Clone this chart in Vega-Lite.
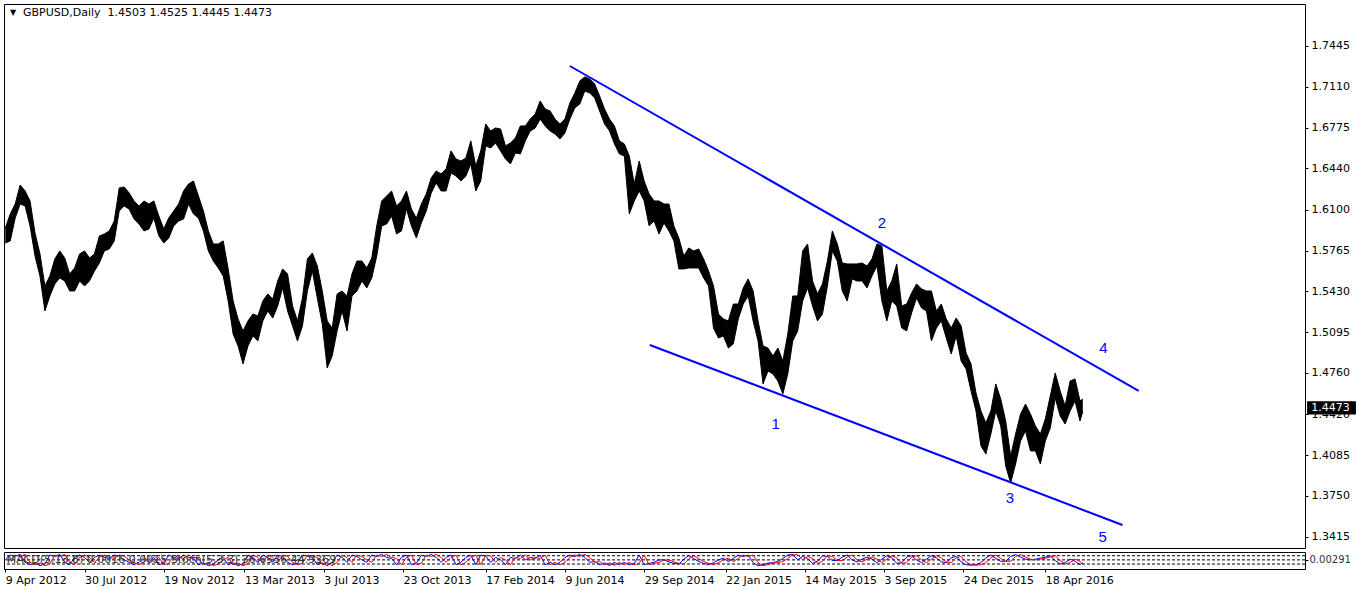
{
"$schema": "https://vega.github.io/schema/vega-lite/v6.json",
"padding": {"left": 2, "top": 3, "right": 0, "bottom": 0},
"background": "white",
"spacing": 2,
"config": {
  "view": {"stroke": "black", "strokeWidth": 1},
  "font": "DejaVu Sans",
  "axis": {"labelFont": "DejaVu Sans", "labelFontSize": 11, "labelColor": "black", "tickColor": "black", "tickSize": 3, "domain": false, "grid": false}
},
"datasets": {
"px": [
{"d":"2012-04-09","h":1.5950,"l":1.5827,"k":50,"s":50},
{"d":"2012-04-16","h":1.6065,"l":1.5844,"k":85,"s":50},
{"d":"2012-04-23","h":1.6147,"l":1.6032,"k":75,"s":85},
{"d":"2012-04-30","h":1.6303,"l":1.6147,"k":90,"s":75},
{"d":"2012-05-07","h":1.6254,"l":1.6131,"k":32,"s":90},
{"d":"2012-05-14","h":1.6172,"l":1.5967,"k":15,"s":32},
{"d":"2012-05-21","h":1.5909,"l":1.5720,"k":28,"s":15},
{"d":"2012-05-28","h":1.5737,"l":1.5556,"k":8,"s":28},
{"d":"2012-06-04","h":1.5474,"l":1.5269,"k":20,"s":8},
{"d":"2012-06-11","h":1.5556,"l":1.5392,"k":85,"s":20},
{"d":"2012-06-18","h":1.5696,"l":1.5491,"k":75,"s":85},
{"d":"2012-06-25","h":1.5762,"l":1.5540,"k":90,"s":75},
{"d":"2012-07-02","h":1.5704,"l":1.5515,"k":32,"s":90},
{"d":"2012-07-09","h":1.5573,"l":1.5433,"k":15,"s":32},
{"d":"2012-07-16","h":1.5622,"l":1.5433,"k":68,"s":15},
{"d":"2012-07-23","h":1.5737,"l":1.5515,"k":85,"s":68},
{"d":"2012-07-30","h":1.5762,"l":1.5474,"k":68,"s":85},
{"d":"2012-08-06","h":1.5704,"l":1.5515,"k":32,"s":68},
{"d":"2012-08-13","h":1.5737,"l":1.5597,"k":68,"s":32},
{"d":"2012-08-20","h":1.5885,"l":1.5663,"k":85,"s":68},
{"d":"2012-08-27","h":1.5901,"l":1.5762,"k":68,"s":85},
{"d":"2012-09-03","h":1.5926,"l":1.5778,"k":60,"s":68},
{"d":"2012-09-10","h":1.6008,"l":1.5844,"k":85,"s":60},
{"d":"2012-09-17","h":1.6279,"l":1.6090,"k":78,"s":85},
{"d":"2012-09-24","h":1.6287,"l":1.6131,"k":50,"s":78},
{"d":"2012-10-01","h":1.6238,"l":1.6106,"k":32,"s":50},
{"d":"2012-10-08","h":1.6172,"l":1.6024,"k":15,"s":32},
{"d":"2012-10-15","h":1.6131,"l":1.5983,"k":32,"s":15},
{"d":"2012-10-22","h":1.6172,"l":1.5926,"k":68,"s":32},
{"d":"2012-10-29","h":1.6147,"l":1.5942,"k":32,"s":68},
{"d":"2012-11-05","h":1.6172,"l":1.6032,"k":68,"s":32},
{"d":"2012-11-12","h":1.6049,"l":1.5885,"k":15,"s":68},
{"d":"2012-11-19","h":1.5942,"l":1.5827,"k":25,"s":15},
{"d":"2012-11-26","h":1.6032,"l":1.5868,"k":85,"s":25},
{"d":"2012-12-03","h":1.6090,"l":1.5967,"k":68,"s":85},
{"d":"2012-12-10","h":1.6147,"l":1.6008,"k":60,"s":68},
{"d":"2012-12-17","h":1.6254,"l":1.6024,"k":85,"s":60},
{"d":"2012-12-24","h":1.6312,"l":1.6147,"k":68,"s":85},
{"d":"2012-12-31","h":1.6336,"l":1.6065,"k":60,"s":68},
{"d":"2013-01-07","h":1.6213,"l":1.6032,"k":15,"s":60},
{"d":"2013-01-14","h":1.6090,"l":1.5926,"k":28,"s":15},
{"d":"2013-01-21","h":1.5926,"l":1.5762,"k":8,"s":28},
{"d":"2013-01-28","h":1.5819,"l":1.5679,"k":20,"s":8},
{"d":"2013-02-04","h":1.5819,"l":1.5622,"k":50,"s":20},
{"d":"2013-02-11","h":1.5844,"l":1.5556,"k":68,"s":50},
{"d":"2013-02-18","h":1.5614,"l":1.5351,"k":15,"s":68},
{"d":"2013-02-25","h":1.5351,"l":1.5080,"k":28,"s":15},
{"d":"2013-03-04","h":1.5203,"l":1.4982,"k":8,"s":28},
{"d":"2013-03-11","h":1.5105,"l":1.4834,"k":22,"s":8},
{"d":"2013-03-18","h":1.5187,"l":1.4982,"k":85,"s":22},
{"d":"2013-03-25","h":1.5244,"l":1.5064,"k":68,"s":85},
{"d":"2013-04-01","h":1.5228,"l":1.5023,"k":32,"s":68},
{"d":"2013-04-08","h":1.5351,"l":1.5187,"k":85,"s":32},
{"d":"2013-04-15","h":1.5409,"l":1.5269,"k":68,"s":85},
{"d":"2013-04-22","h":1.5367,"l":1.5211,"k":32,"s":68},
{"d":"2013-04-29","h":1.5515,"l":1.5310,"k":85,"s":32},
{"d":"2013-05-06","h":1.5614,"l":1.5458,"k":75,"s":85},
{"d":"2013-05-13","h":1.5573,"l":1.5269,"k":32,"s":75},
{"d":"2013-05-20","h":1.5310,"l":1.5146,"k":15,"s":32},
{"d":"2013-05-27","h":1.5187,"l":1.5023,"k":25,"s":15},
{"d":"2013-06-03","h":1.5376,"l":1.5146,"k":85,"s":25},
{"d":"2013-06-10","h":1.5696,"l":1.5433,"k":78,"s":85},
{"d":"2013-06-17","h":1.5745,"l":1.5597,"k":68,"s":78},
{"d":"2013-06-24","h":1.5638,"l":1.5376,"k":15,"s":68},
{"d":"2013-07-01","h":1.5433,"l":1.5162,"k":28,"s":15},
{"d":"2013-07-08","h":1.5187,"l":1.4801,"k":8,"s":28},
{"d":"2013-07-15","h":1.5129,"l":1.4899,"k":32,"s":8},
{"d":"2013-07-22","h":1.5409,"l":1.5105,"k":85,"s":32},
{"d":"2013-07-29","h":1.5433,"l":1.5269,"k":68,"s":85},
{"d":"2013-08-05","h":1.5392,"l":1.5105,"k":32,"s":68},
{"d":"2013-08-12","h":1.5573,"l":1.5392,"k":85,"s":32},
{"d":"2013-08-19","h":1.5679,"l":1.5433,"k":75,"s":85},
{"d":"2013-08-26","h":1.5679,"l":1.5515,"k":50,"s":75},
{"d":"2013-09-02","h":1.5622,"l":1.5458,"k":32,"s":50},
{"d":"2013-09-09","h":1.5704,"l":1.5540,"k":85,"s":32},
{"d":"2013-09-16","h":1.5967,"l":1.5720,"k":75,"s":85},
{"d":"2013-09-23","h":1.6172,"l":1.5967,"k":90,"s":75},
{"d":"2013-09-30","h":1.6213,"l":1.5983,"k":68,"s":90},
{"d":"2013-10-07","h":1.6254,"l":1.6049,"k":60,"s":68},
{"d":"2013-10-14","h":1.6131,"l":1.5901,"k":15,"s":60},
{"d":"2013-10-21","h":1.6172,"l":1.5926,"k":68,"s":15},
{"d":"2013-10-28","h":1.6254,"l":1.6106,"k":85,"s":68},
{"d":"2013-11-04","h":1.6106,"l":1.5967,"k":15,"s":85},
{"d":"2013-11-11","h":1.6032,"l":1.5868,"k":25,"s":15},
{"d":"2013-11-18","h":1.6147,"l":1.5991,"k":85,"s":25},
{"d":"2013-11-25","h":1.6230,"l":1.6090,"k":75,"s":85},
{"d":"2013-12-02","h":1.6361,"l":1.6238,"k":90,"s":75},
{"d":"2013-12-09","h":1.6418,"l":1.6320,"k":68,"s":90},
{"d":"2013-12-16","h":1.6394,"l":1.6254,"k":32,"s":68},
{"d":"2013-12-23","h":1.6435,"l":1.6254,"k":68,"s":32},
{"d":"2013-12-30","h":1.6583,"l":1.6402,"k":85,"s":68},
{"d":"2014-01-06","h":1.6517,"l":1.6377,"k":15,"s":85},
{"d":"2014-01-13","h":1.6500,"l":1.6336,"k":32,"s":15},
{"d":"2014-01-20","h":1.6525,"l":1.6377,"k":68,"s":32},
{"d":"2014-01-27","h":1.6665,"l":1.6476,"k":85,"s":68},
{"d":"2014-02-03","h":1.6459,"l":1.6254,"k":15,"s":85},
{"d":"2014-02-10","h":1.6583,"l":1.6336,"k":85,"s":15},
{"d":"2014-02-17","h":1.6804,"l":1.6624,"k":78,"s":85},
{"d":"2014-02-24","h":1.6747,"l":1.6607,"k":32,"s":78},
{"d":"2014-03-03","h":1.6771,"l":1.6648,"k":68,"s":32},
{"d":"2014-03-10","h":1.6763,"l":1.6583,"k":50,"s":68},
{"d":"2014-03-17","h":1.6624,"l":1.6517,"k":15,"s":50},
{"d":"2014-03-24","h":1.6648,"l":1.6476,"k":68,"s":15},
{"d":"2014-03-31","h":1.6689,"l":1.6566,"k":60,"s":68},
{"d":"2014-04-07","h":1.6788,"l":1.6558,"k":85,"s":60},
{"d":"2014-04-14","h":1.6788,"l":1.6665,"k":50,"s":85},
{"d":"2014-04-21","h":1.6845,"l":1.6747,"k":68,"s":50},
{"d":"2014-04-28","h":1.6886,"l":1.6771,"k":60,"s":68},
{"d":"2014-05-05","h":1.6993,"l":1.6845,"k":85,"s":60},
{"d":"2014-05-12","h":1.6927,"l":1.6788,"k":15,"s":85},
{"d":"2014-05-19","h":1.6911,"l":1.6747,"k":32,"s":15},
{"d":"2014-05-26","h":1.6845,"l":1.6722,"k":15,"s":32},
{"d":"2014-06-02","h":1.6804,"l":1.6681,"k":32,"s":15},
{"d":"2014-06-09","h":1.6845,"l":1.6730,"k":68,"s":32},
{"d":"2014-06-16","h":1.6977,"l":1.6845,"k":85,"s":68},
{"d":"2014-06-23","h":1.7059,"l":1.6936,"k":75,"s":85},
{"d":"2014-06-30","h":1.7157,"l":1.6968,"k":90,"s":75},
{"d":"2014-07-07","h":1.7190,"l":1.7075,"k":68,"s":90},
{"d":"2014-07-14","h":1.7174,"l":1.7059,"k":32,"s":68},
{"d":"2014-07-21","h":1.7133,"l":1.7018,"k":38,"s":32},
{"d":"2014-07-28","h":1.7034,"l":1.6911,"k":15,"s":38},
{"d":"2014-08-04","h":1.6927,"l":1.6804,"k":28,"s":15},
{"d":"2014-08-11","h":1.6845,"l":1.6747,"k":10,"s":28},
{"d":"2014-08-18","h":1.6788,"l":1.6640,"k":32,"s":10},
{"d":"2014-08-25","h":1.6665,"l":1.6558,"k":15,"s":32},
{"d":"2014-09-01","h":1.6640,"l":1.6541,"k":32,"s":15},
{"d":"2014-09-08","h":1.6541,"l":1.6065,"k":15,"s":32},
{"d":"2014-09-15","h":1.6312,"l":1.6172,"k":25,"s":15},
{"d":"2014-09-22","h":1.6500,"l":1.6254,"k":85,"s":25},
{"d":"2014-09-29","h":1.6336,"l":1.6172,"k":15,"s":85},
{"d":"2014-10-06","h":1.6230,"l":1.5967,"k":25,"s":15},
{"d":"2014-10-13","h":1.6172,"l":1.6008,"k":32,"s":25},
{"d":"2014-10-20","h":1.6172,"l":1.5901,"k":50,"s":32},
{"d":"2014-10-27","h":1.6147,"l":1.5991,"k":50,"s":50},
{"d":"2014-11-03","h":1.6147,"l":1.5926,"k":35,"s":50},
{"d":"2014-11-10","h":1.5967,"l":1.5844,"k":25,"s":35},
{"d":"2014-11-17","h":1.5868,"l":1.5614,"k":20,"s":25},
{"d":"2014-11-24","h":1.5720,"l":1.5614,"k":55,"s":20},
{"d":"2014-12-01","h":1.5786,"l":1.5622,"k":80,"s":55},
{"d":"2014-12-08","h":1.5762,"l":1.5622,"k":60,"s":80},
{"d":"2014-12-15","h":1.5778,"l":1.5622,"k":38,"s":60},
{"d":"2014-12-22","h":1.5696,"l":1.5540,"k":25,"s":38},
{"d":"2014-12-29","h":1.5597,"l":1.5474,"k":15,"s":25},
{"d":"2015-01-05","h":1.5474,"l":1.5129,"k":30,"s":15},
{"d":"2015-01-12","h":1.5244,"l":1.5047,"k":50,"s":30},
{"d":"2015-01-19","h":1.5203,"l":1.5064,"k":62,"s":50},
{"d":"2015-01-26","h":1.5187,"l":1.4965,"k":38,"s":62},
{"d":"2015-02-02","h":1.5326,"l":1.4998,"k":60,"s":38},
{"d":"2015-02-09","h":1.5326,"l":1.5203,"k":85,"s":60},
{"d":"2015-02-16","h":1.5458,"l":1.5326,"k":75,"s":85},
{"d":"2015-02-23","h":1.5532,"l":1.5392,"k":85,"s":75},
{"d":"2015-03-02","h":1.5433,"l":1.5187,"k":30,"s":85},
{"d":"2015-03-09","h":1.5187,"l":1.5023,"k":8,"s":30},
{"d":"2015-03-16","h":1.4982,"l":1.4670,"k":15,"s":8},
{"d":"2015-03-23","h":1.4965,"l":1.4776,"k":27,"s":15},
{"d":"2015-03-30","h":1.4899,"l":1.4752,"k":30,"s":27},
{"d":"2015-04-06","h":1.4965,"l":1.4694,"k":38,"s":30},
{"d":"2015-04-13","h":1.4858,"l":1.4588,"k":60,"s":38},
{"d":"2015-04-20","h":1.5080,"l":1.4752,"k":85,"s":60},
{"d":"2015-04-27","h":1.5392,"l":1.5023,"k":89,"s":85},
{"d":"2015-05-04","h":1.5392,"l":1.5105,"k":50,"s":89},
{"d":"2015-05-11","h":1.5762,"l":1.5351,"k":75,"s":50},
{"d":"2015-05-18","h":1.5819,"l":1.5458,"k":60,"s":75},
{"d":"2015-05-25","h":1.5515,"l":1.5310,"k":25,"s":60},
{"d":"2015-06-01","h":1.5409,"l":1.5187,"k":40,"s":25},
{"d":"2015-06-08","h":1.5491,"l":1.5244,"k":80,"s":40},
{"d":"2015-06-15","h":1.5679,"l":1.5474,"k":75,"s":80},
{"d":"2015-06-22","h":1.5926,"l":1.5762,"k":45,"s":75},
{"d":"2015-06-29","h":1.5819,"l":1.5679,"k":45,"s":45},
{"d":"2015-07-06","h":1.5663,"l":1.5433,"k":70,"s":45},
{"d":"2015-07-13","h":1.5655,"l":1.5351,"k":85,"s":70},
{"d":"2015-07-20","h":1.5655,"l":1.5532,"k":50,"s":85},
{"d":"2015-07-27","h":1.5655,"l":1.5515,"k":35,"s":50},
{"d":"2015-08-03","h":1.5663,"l":1.5515,"k":55,"s":35},
{"d":"2015-08-10","h":1.5638,"l":1.5458,"k":70,"s":55},
{"d":"2015-08-17","h":1.5696,"l":1.5556,"k":55,"s":70},
{"d":"2015-08-24","h":1.5819,"l":1.5638,"k":30,"s":55},
{"d":"2015-08-31","h":1.5803,"l":1.5351,"k":55,"s":30},
{"d":"2015-09-07","h":1.5433,"l":1.5187,"k":80,"s":55},
{"d":"2015-09-14","h":1.5515,"l":1.5351,"k":65,"s":80},
{"d":"2015-09-21","h":1.5655,"l":1.5310,"k":25,"s":65},
{"d":"2015-09-28","h":1.5310,"l":1.5129,"k":30,"s":25},
{"d":"2015-10-05","h":1.5326,"l":1.5105,"k":70,"s":30},
{"d":"2015-10-12","h":1.5417,"l":1.5253,"k":80,"s":70},
{"d":"2015-10-19","h":1.5491,"l":1.5376,"k":50,"s":80},
{"d":"2015-10-26","h":1.5450,"l":1.5294,"k":30,"s":50},
{"d":"2015-11-02","h":1.5433,"l":1.5269,"k":55,"s":30},
{"d":"2015-11-09","h":1.5433,"l":1.5023,"k":80,"s":55},
{"d":"2015-11-16","h":1.5269,"l":1.5129,"k":65,"s":80},
{"d":"2015-11-23","h":1.5326,"l":1.5187,"k":35,"s":65},
{"d":"2015-11-30","h":1.5203,"l":1.5047,"k":30,"s":35},
{"d":"2015-12-07","h":1.5129,"l":1.4916,"k":65,"s":30},
{"d":"2015-12-14","h":1.5211,"l":1.5064,"k":75,"s":65},
{"d":"2015-12-21","h":1.5146,"l":1.4858,"k":35,"s":75},
{"d":"2015-12-28","h":1.4924,"l":1.4793,"k":15,"s":35},
{"d":"2016-01-04","h":1.4834,"l":1.4612,"k":12,"s":15},
{"d":"2016-01-11","h":1.4596,"l":1.4448,"k":15,"s":12},
{"d":"2016-01-18","h":1.4448,"l":1.4161,"k":30,"s":15},
{"d":"2016-01-25","h":1.4349,"l":1.4095,"k":65,"s":30},
{"d":"2016-02-01","h":1.4448,"l":1.4259,"k":85,"s":65},
{"d":"2016-02-08","h":1.4670,"l":1.4448,"k":60,"s":85},
{"d":"2016-02-15","h":1.4546,"l":1.4325,"k":40,"s":60},
{"d":"2016-02-22","h":1.4366,"l":1.3996,"k":40,"s":40},
{"d":"2016-02-29","h":1.4078,"l":1.3857,"k":75,"s":40},
{"d":"2016-03-07","h":1.4259,"l":1.4013,"k":89,"s":75},
{"d":"2016-03-14","h":1.4423,"l":1.4202,"k":70,"s":89},
{"d":"2016-03-21","h":1.4505,"l":1.4284,"k":55,"s":70},
{"d":"2016-03-28","h":1.4423,"l":1.4120,"k":50,"s":55},
{"d":"2016-04-04","h":1.4325,"l":1.4120,"k":55,"s":50},
{"d":"2016-04-11","h":1.4259,"l":1.4013,"k":62,"s":55},
{"d":"2016-04-18","h":1.4382,"l":1.4202,"k":70,"s":62},
{"d":"2016-04-25","h":1.4571,"l":1.4308,"k":80,"s":70},
{"d":"2016-05-02","h":1.4760,"l":1.4555,"k":45,"s":80},
{"d":"2016-05-09","h":1.4612,"l":1.4407,"k":20,"s":45},
{"d":"2016-05-16","h":1.4489,"l":1.4341,"k":30,"s":20},
{"d":"2016-05-23","h":1.4694,"l":1.4448,"k":55,"s":30},
{"d":"2016-05-30","h":1.4711,"l":1.4530,"k":40,"s":55},
{"d":"2016-06-06","h":1.4530,"l":1.4366,"k":15,"s":40},
{"d":"2016-06-10","h":1.4546,"l":1.4445,"k":30,"s":15}
],
"trend": [
{"g":"upper","d":"2014-06-16","p":1.7280},
{"g":"upper","d":"2016-08-28","p":1.4612},
{"g":"lower","d":"2014-10-07","p":1.4990},
{"g":"lower","d":"2016-08-05","p":1.3512}
],
"waves": [
{"d":"2015-04-03","p":1.4341,"t":"1"},
{"d":"2015-08-31","p":1.5991,"t":"2"},
{"d":"2016-02-28","p":1.3734,"t":"3"},
{"d":"2016-07-09","p":1.4965,"t":"4"},
{"d":"2016-07-08","p":1.3414,"t":"5"}
]
},
"vconcat": [
{
  "width": 1301,
  "height": 544,
  "layer": [
    {
      "data": {"name": "px"},
      "mark": {"type": "area", "color": "black", "opacity": 1},
      "encoding": {
        "x": {"field": "d", "type": "temporal", "axis": null, "scale": {"type": "utc", "domain": [{"year": 2012, "month": 4, "date": 7, "hours": 4, "utc": true}, {"year": 2017, "month": 4, "date": 20, "hours": 1, "utc": true}]}},
        "y": {"field": "h", "type": "quantitative", "title": null, "scale": {"domain": [1.3323, 1.7789], "zero": false, "nice": false},
              "axis": {"orient": "right", "values": [1.7445, 1.711, 1.6775, 1.644, 1.61, 1.5765, 1.543, 1.5095, 1.476, 1.442, 1.4085, 1.375, 1.3415], "format": ".4f", "labelPadding": 3}},
        "y2": {"field": "l"}
      }
    },
    {
      "data": {"name": "px"},
      "mark": {"type": "line", "color": "black", "strokeWidth": 1},
      "encoding": {"x": {"field": "d", "type": "temporal"}, "y": {"field": "h", "type": "quantitative"}}
    },
    {
      "data": {"name": "px"},
      "mark": {"type": "line", "color": "black", "strokeWidth": 1},
      "encoding": {"x": {"field": "d", "type": "temporal"}, "y": {"field": "l", "type": "quantitative"}}
    },
    {
      "mark": {"type": "rule", "color": "#778899", "strokeWidth": 1},
      "encoding": {"y": {"datum": 1.4473}}
    },
    {
      "data": {"name": "trend"},
      "mark": {"type": "line", "color": "#0000ff", "strokeWidth": 2},
      "encoding": {"x": {"field": "d", "type": "temporal"}, "y": {"field": "p", "type": "quantitative"}, "detail": {"field": "g"}}
    },
    {
      "data": {"name": "waves"},
      "mark": {"type": "text", "color": "#0000ff", "font": "Liberation Sans", "fontSize": 15, "align": "center", "baseline": "middle"},
      "encoding": {"x": {"field": "d", "type": "temporal"}, "y": {"field": "p", "type": "quantitative"}, "text": {"field": "t"}}
    },
    {
      "data": {"values": [{"d": "2012-05-04", "p": 1.7716, "t": "GBPUSD,Daily\u00a0 1.4503 1.4525 1.4445 1.4473"}]},
      "mark": {"type": "text", "color": "black", "fontSize": 11, "align": "left", "baseline": "middle"},
      "encoding": {"x": {"field": "d", "type": "temporal"}, "y": {"field": "p", "type": "quantitative"}, "text": {"field": "t"}}
    },
    {
      "data": {"values": [{"d": "2012-04-20", "p": 1.7716, "t": "▼"}]},
      "mark": {"type": "text", "color": "black", "fontSize": 8, "align": "center", "baseline": "middle"},
      "encoding": {"x": {"field": "d", "type": "temporal"}, "y": {"field": "p", "type": "quantitative"}, "text": {"field": "t"}}
    },
    {
      "data": {"values": [{"d1": "2017-04-23", "d2": "2017-07-01", "p1": 1.4418, "p2": 1.4528}]},
      "mark": {"type": "rect", "color": "black"},
      "encoding": {"x": {"field": "d1", "type": "temporal"}, "x2": {"field": "d2"}, "y": {"field": "p1", "type": "quantitative"}, "y2": {"field": "p2"}}
    },
    {
      "data": {"values": [{"d": "2017-04-29", "p": 1.4473, "t": "1.4473"}]},
      "mark": {"type": "text", "color": "white", "fontSize": 11, "align": "left", "baseline": "middle"},
      "encoding": {"x": {"field": "d", "type": "temporal"}, "y": {"field": "p", "type": "quantitative"}, "text": {"field": "t"}}
    }
  ]
},
{
  "width": 1301,
  "height": 17,
  "layer": [
    {
      "data": {"values": [{"v": 80}, {"v": 50}, {"v": 20}]},
      "mark": {"type": "rule", "color": "black", "strokeWidth": 1, "strokeDash": [3, 2]},
      "encoding": {"y": {"field": "v", "type": "quantitative", "title": null, "scale": {"domain": [-16, 107], "zero": false, "nice": false},
                   "axis": {"orient": "right", "values": [50], "labelExpr": "'0.00291'", "labelColor": "#333333", "labelFontSize": 10, "labelPadding": 1}}}
    },
    {
      "data": {"name": "px"},
      "mark": {"type": "line", "color": "#0000ff", "strokeWidth": 1},
      "encoding": {
        "x": {"field": "d", "type": "temporal", "title": null,
              "scale": {"type": "utc", "domain": [{"year": 2012, "month": 4, "date": 7, "hours": 4, "utc": true}, {"year": 2017, "month": 4, "date": 20, "hours": 1, "utc": true}]},
              "axis": {"values": [
                {"year": 2012, "month": 4, "date": 9, "utc": true},
                {"year": 2012, "month": 7, "date": 30, "utc": true},
                {"year": 2012, "month": 11, "date": 19, "utc": true},
                {"year": 2013, "month": 3, "date": 13, "utc": true},
                {"year": 2013, "month": 7, "date": 3, "utc": true},
                {"year": 2013, "month": 10, "date": 23, "utc": true},
                {"year": 2014, "month": 2, "date": 17, "utc": true},
                {"year": 2014, "month": 6, "date": 9, "utc": true},
                {"year": 2014, "month": 9, "date": 29, "utc": true},
                {"year": 2015, "month": 1, "date": 22, "utc": true},
                {"year": 2015, "month": 5, "date": 14, "utc": true},
                {"year": 2015, "month": 9, "date": 3, "utc": true},
                {"year": 2015, "month": 12, "date": 24, "utc": true},
                {"year": 2016, "month": 4, "date": 18, "utc": true}
              ], "format": "%-d %b %Y", "labelAlign": "left", "labelFlush": false, "labelOverlap": false, "labelPadding": 2}},
        "y": {"field": "k", "type": "quantitative"}
      }
    },
    {
      "data": {"name": "px"},
      "mark": {"type": "line", "color": "#ff0000", "strokeWidth": 1},
      "encoding": {"x": {"field": "d", "type": "temporal"}, "y": {"field": "s", "type": "quantitative"}}
    },
    {
      "data": {"values": [{"d": "2012-04-11", "v": 50, "t": "MACD(5,13,8) 0.0016 0.0015 Stoch(5,3,3) 36.6536 44.9369"}]},
      "mark": {"type": "text", "color": "#333333", "fontSize": 11, "align": "left", "baseline": "middle"},
      "encoding": {"x": {"field": "d", "type": "temporal"}, "y": {"field": "v", "type": "quantitative"}, "text": {"field": "t"}}
    }
  ]
}
]
}
